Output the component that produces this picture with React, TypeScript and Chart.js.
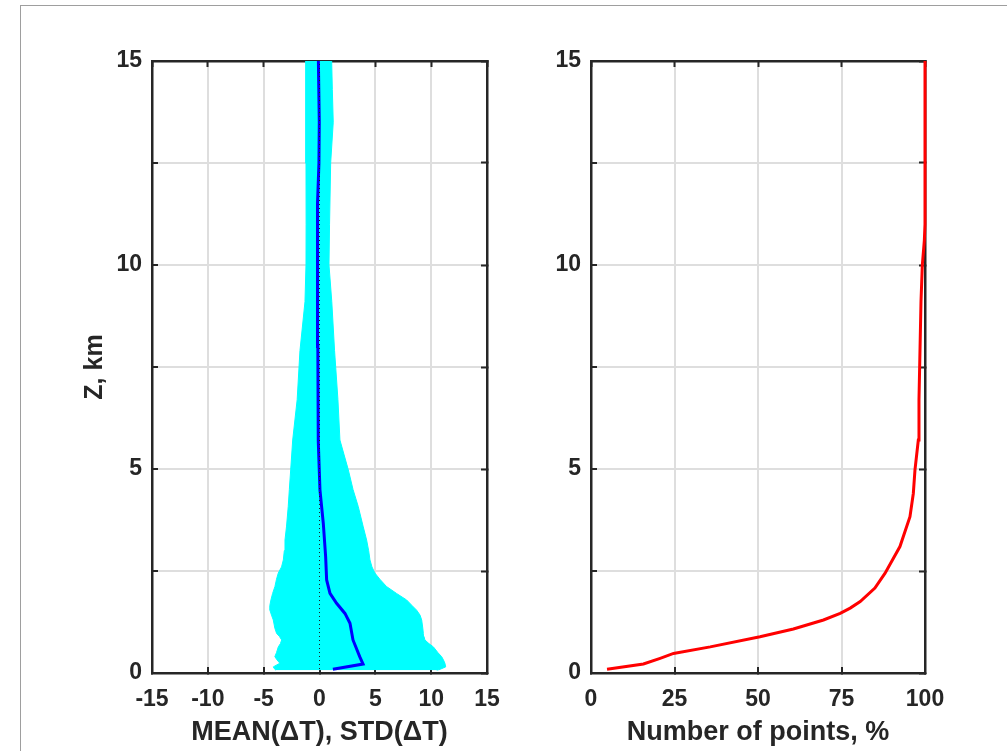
import React, { useEffect, useRef } from 'react';
import { Chart, registerables } from 'chart.js';

Chart.register(...registerables);

// ---------- data ----------
// Left panel: band = MEAN(ΔT) ± STD(ΔT) as function of altitude Z (km)
const bandZ = [0.07, 0.09, 0.15, 0.24, 0.32, 0.40, 0.50, 0.64, 0.72, 0.81, 0.90, 0.97, 1.10, 1.30, 1.42, 1.54, 1.65, 1.79, 1.95, 2.12, 2.30, 2.45, 2.60, 2.77, 3.00, 3.26, 3.60, 4.08, 4.50, 4.98, 5.71, 6.70, 7.90, 9.10, 10.0, 11.0, 12.5, 13.5, 14.3, 15.0];
const bandLower = [-3.9, -4.0, -4.14, -3.55, -3.8, -4.0, -3.85, -3.69, -3.5, -3.39, -3.6, -3.84, -4.0, -4.14, -4.3, -4.44, -4.45, -4.35, -4.2, -3.99, -3.85, -3.69, -3.4, -3.24, -3.15, -3.09, -2.95, -2.8, -2.7, -2.58, -2.4, -2.0, -1.75, -1.3, -1.21, -1.2, -1.21, -1.24, -1.24, -1.24];
const bandUpper = [10.5, 10.8, 11.3, 11.23, 11.1, 10.94, 10.6, 10.2, 9.8, 9.44, 9.35, 9.3, 9.25, 9.15, 9.0, 8.7, 8.3, 7.8, 6.9, 6.0, 5.4, 4.96, 4.7, 4.52, 4.4, 4.22, 3.9, 3.47, 3.0, 2.58, 1.83, 1.65, 1.35, 1.1, 0.85, 0.9, 1.0, 1.23, 1.15, 1.09];

const meanZ = [0.09, 0.22, 0.40, 0.81, 1.22, 1.46, 1.71, 1.95, 2.28, 2.85, 3.67, 4.49, 5.68, 8.0, 10.0, 11.5, 12.5, 13.5, 15.0];
const meanDT = [1.2, 3.9, 3.6, 3.0, 2.73, 2.28, 1.53, 0.94, 0.64, 0.55, 0.34, 0.04, -0.11, -0.15, -0.16, -0.2, -0.05, -0.02, -0.1];

const zeroLineZ = [0, 15];
const zeroLineX = [0, 0];

// Right panel: number of points (%) vs altitude
const pointsZ = [0.09, 0.22, 0.36, 0.48, 0.64, 0.89, 1.08, 1.30, 1.46, 1.59, 1.75, 2.08, 2.44, 3.10, 3.83, 4.40, 4.98, 5.71, 6.7, 9.1, 10.0, 10.6, 11.0, 15.0];
const pointsPct = [4.8, 15.7, 20.7, 24.7, 35.7, 50.6, 60.6, 69.6, 74.6, 77.6, 80.6, 85.0, 88.0, 92.5, 95.5, 96.5, 97.0, 98.0, 98.2, 98.8, 99.2, 99.8, 100, 100];

// ticks
const leftXTicks = [-15, -10, -5, 0, 5, 10, 15];
const rightXTicks = [0, 25, 50, 75, 100];
const zGrid = [0, 2.5, 5, 7.5, 10, 12.5, 15];
const zTickLabels = [0, 5, 10, 15];

const leftXTitle = 'MEAN(\u0394T), STD(\u0394T)';
const rightXTitle = 'Number of points, %';
const zTitle = 'Z, km';

// ---------- styles ----------
const AX = '#262626';
const GRID = '#dedede';
const FONT = "'Liberation Sans', Arial, Helvetica, sans-serif";
const TICK_FONT = { family: FONT, size: 23, weight: 'bold' as const };
const XTITLE_FONT = { family: FONT, size: 27, weight: 'bold' as const };
const YTITLE_FONT = { family: FONT, size: 25, weight: 'bold' as const };

function xBottom(min: number, max: number, vals: number[], title: string) {
  return {
    type: 'linear', position: 'bottom', min, max,
    afterBuildTicks: (s: any) => { s.ticks = vals.map((v) => ({ value: v })); },
    ticks: { color: AX, font: TICK_FONT, padding: 19, maxRotation: 0, autoSkip: false, callback: (v: any) => String(v) },
    grid: { color: GRID, lineWidth: 2, tickColor: AX, tickLength: -6, tickWidth: 2 },
    border: { color: AX, width: 2.5 },
    title: { display: true, text: title, color: AX, font: XTITLE_FONT, padding: { top: 0, bottom: 2 } },
    afterFit: (s: any) => { s.height = 78; },
  };
}

function xTop(min: number, max: number, vals: number[]) {
  return {
    type: 'linear', position: 'top', min, max,
    afterBuildTicks: (s: any) => { s.ticks = vals.map((v) => ({ value: v })); },
    ticks: { display: false },
    grid: { drawOnChartArea: false, color: GRID, tickColor: AX, tickLength: -6, tickWidth: 2 },
    border: { color: AX, width: 2.5 },
    afterFit: (s: any) => { s.height = 0; },
  };
}

function yLeft(width: number, title: string | null) {
  return {
    type: 'linear', position: 'left', min: 0, max: 15,
    afterBuildTicks: (s: any) => { s.ticks = zGrid.map((v) => ({ value: v })); },
    ticks: { color: AX, font: TICK_FONT, padding: 16, autoSkip: false, callback: (v: any) => (zTickLabels.includes(v) ? String(v) : '') },
    grid: { color: GRID, lineWidth: 2, tickColor: AX, tickLength: -6, tickWidth: 2 },
    border: { color: AX, width: 2.5 },
    title: title
      ? { display: true, text: title, color: AX, font: YTITLE_FONT, padding: { top: 80, bottom: 0 } }
      : { display: false },
    afterFit: (s: any) => { s.width = width; },
  };
}

function yRight() {
  return {
    type: 'linear', position: 'right', min: 0, max: 15,
    afterBuildTicks: (s: any) => { s.ticks = zGrid.map((v) => ({ value: v })); },
    ticks: { display: false },
    grid: { drawOnChartArea: false, color: GRID, tickColor: AX, tickLength: -6, tickWidth: 2 },
    border: { color: AX, width: 2.5 },
    afterFit: (s: any) => { s.width = 0; },
  };
}

function LeftPanel() {
  const ref = useRef<HTMLCanvasElement>(null);
  useEffect(() => {
    const chart = new Chart(ref.current as HTMLCanvasElement, {
      type: 'line',
      data: {
        datasets: [
          {
            label: 'zero',
            data: zeroLineZ.map((z, i) => ({ x: zeroLineX[i], y: z })),
            borderColor: '#1a1a1a', borderWidth: 1, borderDash: [1, 3],
            pointRadius: 0, fill: false,
          },
          {
            label: 'mean',
            data: meanZ.map((z, i) => ({ x: meanDT[i], y: z })),
            borderColor: '#0000ff', borderWidth: 3, pointRadius: 0, fill: false,
          },
          {
            label: 'lower',
            data: bandZ.map((z, i) => ({ x: bandLower[i], y: z })),
            borderColor: '#00ffff', backgroundColor: '#00ffff', borderWidth: 1,
            pointRadius: 0, fill: '+1',
          },
          {
            label: 'upper',
            data: bandZ.map((z, i) => ({ x: bandUpper[i], y: z })),
            borderColor: '#00ffff', backgroundColor: '#00ffff', borderWidth: 1,
            pointRadius: 0, fill: false,
          },
        ],
      },
      options: {
        indexAxis: 'y',
        responsive: false,
        animation: false,
        layout: { padding: { left: 0, top: 61, right: 53, bottom: 0 } },
        plugins: { legend: { display: false }, tooltip: { enabled: false } },
        scales: {
          x: xBottom(-15, 15, leftXTicks, leftXTitle),
          x2: xTop(-15, 15, leftXTicks),
          y: yLeft(152, zTitle),
          y2: yRight(),
        } as any,
      } as any,
    });
    return () => chart.destroy();
  }, []);
  return (
    <canvas ref={ref} width={540} height={751}
      style={{ position: 'absolute', left: 0, top: 0, width: 540, height: 751 }} />
  );
}

function RightPanel() {
  const ref = useRef<HTMLCanvasElement>(null);
  useEffect(() => {
    const chart = new Chart(ref.current as HTMLCanvasElement, {
      type: 'line',
      data: {
        datasets: [
          {
            label: 'points',
            data: pointsZ.map((z, i) => ({ x: pointsPct[i], y: z })),
            borderColor: '#ff0000', borderWidth: 3, pointRadius: 0, fill: false,
            clip: false,
          },
        ],
      },
      options: {
        indexAxis: 'y',
        responsive: false,
        animation: false,
        layout: { padding: { left: 0, top: 61, right: 82, bottom: 0 } },
        plugins: { legend: { display: false }, tooltip: { enabled: false } },
        scales: {
          x: xBottom(0, 100, rightXTicks, rightXTitle),
          x2: xTop(0, 100, rightXTicks),
          y: yLeft(51, null),
          y2: yRight(),
        } as any,
      } as any,
    });
    return () => chart.destroy();
  }, []);
  return (
    <canvas ref={ref} width={467} height={751}
      style={{ position: 'absolute', left: 540, top: 0, width: 467, height: 751 }} />
  );
}

export default function App() {
  return (
    <div style={{ position: 'absolute', left: 0, top: 0, width: 1007, height: 751, overflow: 'hidden', background: '#ffffff' }}>
      <div style={{ position: 'absolute', left: 20, top: 5, width: 1100, height: 900, borderLeft: '1.5px solid #9e9e9e', borderTop: '1.5px solid #9e9e9e' }} />
      <LeftPanel />
      <RightPanel />
    </div>
  );
}
